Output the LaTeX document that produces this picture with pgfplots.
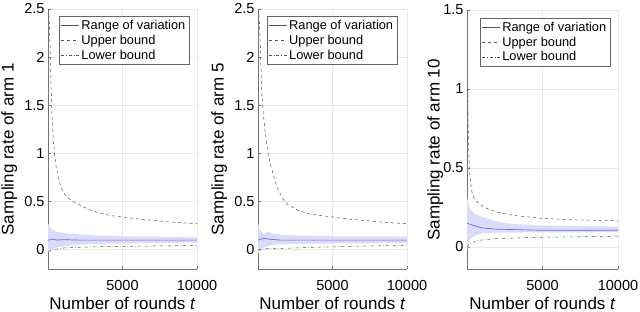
\documentclass[border=0pt]{standalone}
\usepackage{pgfplots}
\pgfplotsset{compat=1.18}
\usepgfplotslibrary{fillbetween}
\usepackage{fontspec}
\setmainfont{Liberation Sans}
\definecolor{bandfill}{RGB}{218,218,249}
\definecolor{meanc}{RGB}{110,110,220}
\definecolor{boundc}{RGB}{85,85,85}
\definecolor{gridc}{RGB}{232,232,232}
\pgfplotsset{
 panel/.style={
  scale only axis, width=149pt, height=260pt,
  xmin=0, xmax=10000, xtick={5000,10000},
  scaled x ticks=false,
  xticklabel style={/pgf/number format/1000 sep={}, yshift=-8pt},
  axis x line*=bottom, axis y line*=left,
  axis line style={black!55, -},
  tick style={black!55}, tick align=inside, major tick length=3pt,
  grid=major, grid style={gridc, line width=0.5pt},
  tick label style={font=\fontsize{14.5}{16}\selectfont},
  /pgf/number format/assume math mode=true,
  xlabel={Number of rounds \textit{t}},
  every axis x label/.style={at={(axis description cs:0.5,0)}, anchor=north, yshift=-25pt, font=\fontsize{17}{20}\selectfont},
  every axis y label/.style={at={(axis description cs:-0.26,0.46)}, rotate=90, anchor=center, font=\fontsize{17}{20}\selectfont},
  legend style={font=\fontsize{12.8}{14.5}\selectfont, draw=black!60, fill=white,
    at={(axis description cs:0.95,0.973)}, anchor=north east, row sep=0pt, inner sep=2pt},
  legend cell align=left,
  legend image code/.code={\draw[#1] (0pt,0pt) -- (18pt,0pt);},
 },
 bnd/.style={boundc, line width=0.5pt, forget plot},
}
\begin{document}
\begin{tikzpicture}
% ---------------- Panel 1
\begin{axis}[panel, at={(48pt,43pt)}, ymin=-0.2, ymax=2.5, ytick={0,0.5,1,1.5,2,2.5},
  ylabel={Sampling rate of arm 1}]
\addplot[name path=u1, draw=none, forget plot] coordinates {(10,0.27)(200,0.22)(500,0.19)(1000,0.175)(2000,0.16)(3000,0.15)(5000,0.14)(7500,0.135)(10000,0.128)};
\addplot[name path=l1, draw=none, forget plot] coordinates {(10,-0.03)(200,0.0)(500,0.02)(1000,0.035)(2000,0.05)(3000,0.06)(5000,0.065)(7500,0.07)(10000,0.075)};
\addplot[bandfill, forget plot] fill between[of=u1 and l1];
\addplot[meanc, line width=0.7pt, forget plot] coordinates {(10,0.10)(300,0.11)(600,0.10)(1000,0.105)(2000,0.10)(5000,0.10)(10000,0.10)};
\addplot[bnd, dashed] coordinates {(20,2.5)(60,2.45)(100,2.3)(150,2.05)(200,1.72)(250,1.46)(300,1.29)(350,1.15)(450,0.98)(550,0.86)(700,0.74)(900,0.64)(1140,0.57)(1500,0.52)(1800,0.49)(2200,0.46)(2700,0.42)(3500,0.38)(4200,0.355)(5000,0.34)(6000,0.32)(7000,0.305)(8000,0.29)(9000,0.28)(10000,0.27)};
\addplot[bnd, dash dot] coordinates {(10,-0.02)(300,0.0)(1140,0.02)(3000,0.03)(5000,0.035)(7500,0.04)(10000,0.045)};
\addlegendimage{boundc, solid}\addlegendentry{Range of variation}
\addlegendimage{boundc, dashed}\addlegendentry{Upper bound}
\addlegendimage{boundc, dash dot}\addlegendentry{Lower bound}
\end{axis}
% ---------------- Panel 2
\begin{axis}[panel, at={(258pt,43pt)}, ymin=-0.2, ymax=2.5, ytick={0,0.5,1,1.5,2,2.5},
  ylabel={Sampling rate of arm 5},
  legend style={at={(axis description cs:0.935,0.973)}}]
\addplot[name path=u2, draw=none, forget plot] coordinates {(10,0.27)(150,0.2)(400,0.16)(600,0.19)(900,0.17)(1500,0.155)(3000,0.145)(5000,0.14)(10000,0.137)};
\addplot[name path=l2, draw=none, forget plot] coordinates {(10,-0.04)(200,0.0)(500,0.03)(1000,0.05)(2000,0.06)(5000,0.065)(10000,0.069)};
\addplot[bandfill, forget plot] fill between[of=u2 and l2];
\addplot[meanc, line width=0.7pt, forget plot] coordinates {(10,0.10)(400,0.12)(700,0.11)(1500,0.10)(5000,0.10)(10000,0.10)};
\addplot[bnd, dashed] coordinates {(20,2.5)(100,2.35)(180,2.0)(245,1.65)(350,1.42)(467,1.24)(670,1.0)(850,0.88)(1020,0.78)(1300,0.64)(1670,0.53)(2000,0.47)(2670,0.41)(3500,0.37)(5000,0.34)(6000,0.32)(7000,0.305)(8500,0.285)(10000,0.27)};
\addplot[bnd, dash dot] coordinates {(10,0.0)(500,0.01)(2000,0.017)(5000,0.03)(7500,0.04)(10000,0.045)};
\addlegendimage{boundc, solid}\addlegendentry{Range of variation}
\addlegendimage{boundc, dashed}\addlegendentry{Upper bound}
\addlegendimage{boundc, dash dot}\addlegendentry{Lower bound}
\end{axis}
% ---------------- Panel 3
\begin{axis}[panel, width=151pt, height=259pt, at={(467pt,43pt)}, ymin=-0.14, ymax=1.5, ytick={0,0.5,1,1.5},
  ylabel={Sampling rate of arm 10},
  every axis y label/.style={at={(axis description cs:-0.21,0.46)}, rotate=90, anchor=center, font=\fontsize{17}{20}\selectfont},
  legend style={at={(axis description cs:0.95,0.97)}}]
\addplot[name path=u3, draw=none, forget plot] coordinates {(10,0.31)(200,0.24)(500,0.21)(1000,0.19)(2000,0.16)(3000,0.145)(5000,0.135)(10000,0.128)};
\addplot[name path=l3, draw=none, forget plot] coordinates {(10,-0.02)(200,0.05)(500,0.07)(1000,0.085)(2000,0.09)(5000,0.092)(10000,0.093)};
\addplot[bandfill, forget plot] fill between[of=u3 and l3];
\addplot[meanc, line width=0.7pt, forget plot] coordinates {(10,0.15)(300,0.14)(1000,0.12)(2000,0.112)(5000,0.105)(10000,0.105)};
\addplot[bnd, dashed] coordinates {(10,1.0)(50,1.0)(80,0.76)(120,0.6)(180,0.46)(300,0.36)(400,0.32)(620,0.29)(1000,0.26)(1500,0.235)(2000,0.22)(3000,0.2)(5000,0.18)(7000,0.172)(10000,0.165)};
\addplot[bnd, dash dot] coordinates {(10,0.0)(100,0.013)(620,0.04)(2000,0.053)(5000,0.061)(10000,0.068)};
\addlegendimage{boundc, solid}\addlegendentry{Range of variation}
\addlegendimage{boundc, dashed}\addlegendentry{Upper bound}
\addlegendimage{boundc, dash dot}\addlegendentry{Lower bound}
\end{axis}
\pgfresetboundingbox
\path[use as bounding box] (0,0) rectangle (640pt,312pt);
\end{tikzpicture}
\end{document}
